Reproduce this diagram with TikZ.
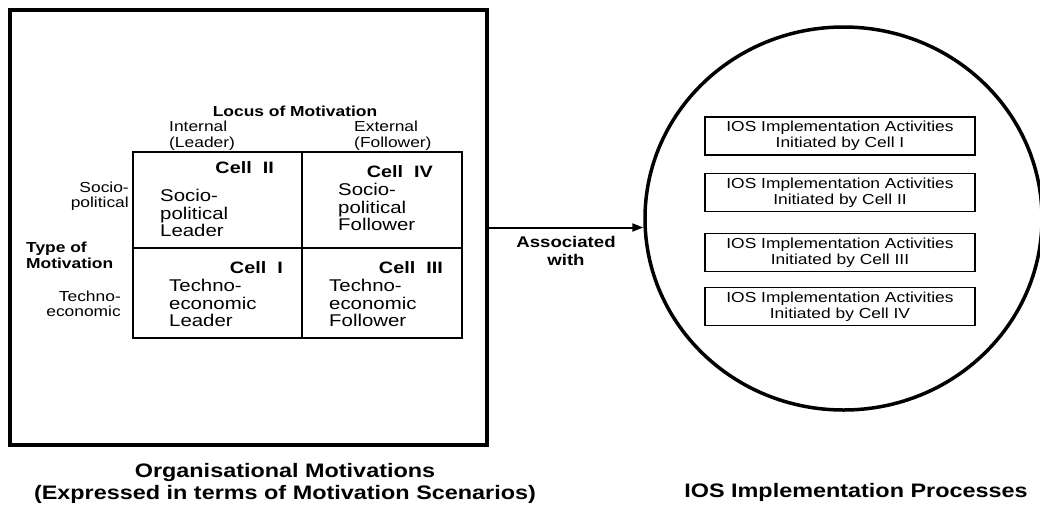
\documentclass[tikz,border=0pt]{standalone}
\usepackage{fontspec}
\setmainfont{Liberation Sans}[FakeStretch=1.2]
\usepackage{tikz}
\usetikzlibrary{arrows.meta, positioning, calc, shapes.geometric}

\begin{document}
\begin{tikzpicture}[
    x=1pt, y=-1pt,
    lbl/.style={inner sep=0, font=\fontsize{14.5}{15.5}\selectfont},
    lblb/.style={lbl, font=\fontsize{14.5}{15.5}\selectfont\bfseries},
    cellbox/.style={draw, line width=1.5pt, inner sep=0},
    cellhead/.style={inner sep=0, anchor=east, font=\fontsize{16.5}{17}\selectfont\bfseries},
    celltxt/.style={inner sep=0, anchor=west, align=left,
                    font=\fontsize{17}{17.5}\selectfont},
    iosbox/.style={draw, line width=1.1pt, minimum width=270pt, minimum height=38pt,
                   inner sep=0, align=center, font=\fontsize{14.5}{16}\selectfont},
    capt/.style={inner sep=0, align=center, font=\fontsize{19.5}{22}\selectfont\bfseries}
  ]
    \useasboundingbox (0,0) rectangle (1040,515);
    % left frame and motivation grid
    \node[draw, line width=3.5pt, minimum width=477pt, minimum height=435pt, inner sep=0]
      (orgbox) at (248.5,227.5) {};
    \node[cellbox, minimum width=169pt, minimum height=96pt] (cellII)  at (217.5,200) {};
    \node[cellbox, minimum width=160pt, minimum height=96pt] (cellIV)  at (382,200)   {};
    \node[cellbox, minimum width=169pt, minimum height=90pt] (cellI)   at (217.5,293) {};
    \node[cellbox, minimum width=160pt, minimum height=90pt] (cellIII) at (382,293)   {};
    \node[lblb] (locus) at (295,111) {Locus of Motivation};
    \node[lbl, anchor=west, align=left] (internal) at (169,135.5) {Internal\\(Leader)};
    \node[lbl, anchor=west, align=left] (external) at (354,135.5) {External\\(Follower)};
    \node[lbl, anchor=east, align=right] (socio) at (129,196) {Socio-\\political};
    \node[lblb, anchor=west, align=left] (typemot) at (26,255.5) {Type of\\Motivation};
    \node[lbl, anchor=east, align=right] (techno) at (121,304) {Techno-\\economic};
    \node[cellhead] at (274,168) {Cell\ \ II};
    \node[cellhead] at (283,268) {Cell\ \ I};
    \node[cellhead] at (433,172) {Cell\ \ IV};
    \node[cellhead] at (443,268) {Cell\ \ III};
    \node[celltxt] at (160,213) {Socio-\\political\\Leader};
    \node[celltxt] at (169,303) {Techno-\\economic\\Leader};
    \node[celltxt] at (338,207) {Socio-\\political\\Follower};
    \node[celltxt] at (329,303) {Techno-\\economic\\Follower};
    % right side: implementation processes
    \node[draw, ellipse, line width=3.5pt, minimum width=397pt, minimum height=383pt,
          inner sep=0] (iosproc) at (843.5,218.5) {};
    \node[iosbox] (act1) at (840,136)   {IOS Implementation Activities\\Initiated by Cell I};
    \node[iosbox] (act2) at (840,192.5) {IOS Implementation Activities\\Initiated by Cell II};
    \node[iosbox] (act3) at (840,252.5) {IOS Implementation Activities\\Initiated by Cell III};
    \node[iosbox] (act4) at (840,306.5) {IOS Implementation Activities\\Initiated by Cell IV};
    \draw[line width=2pt, -{Triangle[length=11pt, width=8pt]}]
      (orgbox.east) -- (orgbox.east -| iosproc.west)
      node[midway, below=4pt, align=center, font=\fontsize{15.5}{18}\selectfont\bfseries]
      {Associated\\with};
    % captions
    \node[capt] (orgcap) at (285,483) {Organisational Motivations\\(Expressed in terms of Motivation Scenarios)};
    \node[capt] (ioscap) at (856,492) {IOS Implementation Processes};
\end{tikzpicture}
\end{document}
